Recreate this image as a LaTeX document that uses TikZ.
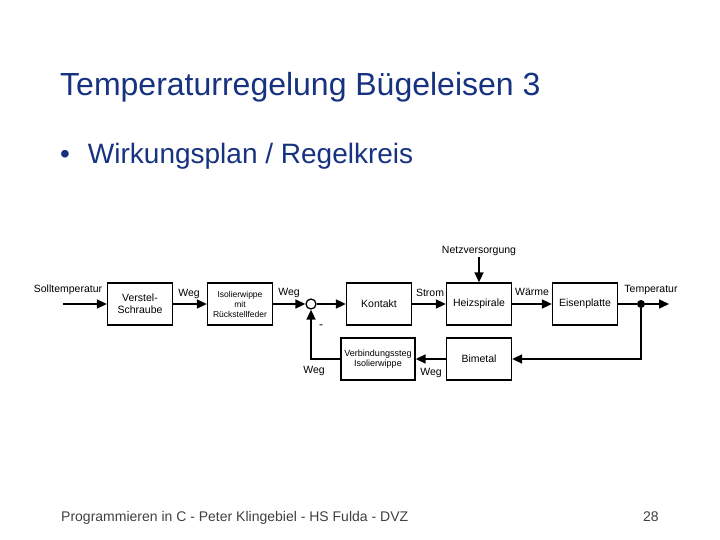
\documentclass[tikz,border=0pt]{standalone}
\usepackage{fontspec}
\setmainfont{Liberation Sans}
\usetikzlibrary{positioning}
\usetikzlibrary{arrows.meta}
\definecolor{titleblue}{RGB}{22,50,128}

\begin{document}
\begin{tikzpicture}[
    x=1pt, y=-1pt,
    block/.style={draw, line width=1.3pt, rectangle, minimum width=65pt, minimum height=42pt, inner sep=1pt, align=center, font=\fontsize{10.5}{12}\selectfont},
    sig/.style={font=\fontsize{10.5}{12}\selectfont, inner sep=1pt},
    flow/.style={line width=1.6pt, -{Triangle[length=10pt,width=9pt]}},
    line/.style={line width=1.6pt},
    >=stealth
]
\useasboundingbox (0,0) rectangle (720,540);

% slide texts
\node[anchor=base west, text=titleblue, font=\fontsize{32}{36}\selectfont, inner sep=0] (title) at (60,96) {Temperaturregelung Bügeleisen 3};
\node[anchor=base west, text=titleblue, font=\fontsize{28}{32}\selectfont, inner sep=0] (bullet) at (60,164) {•\hspace{18pt}Wirkungsplan / Regelkreis};
\node[anchor=base west, text=black!75, font=\fontsize{14}{16}\selectfont, inner sep=0] (footer) at (61,521) {Programmieren in C - Peter Klingebiel - HS Fulda - DVZ};
\node[anchor=base west, text=black!75, font=\fontsize{14}{16}\selectfont, inner sep=0] (page) at (643,521) {28};

% forward path
\node[block] (schraube) at (140,304) {Verstel-\\Schraube};
\node[block, font=\fontsize{8.5}{10}\selectfont] (wippe) at (240,304) {Isolierwippe\\mit\\Rückstellfeder};
\node[draw, circle, line width=1.3pt, minimum size=10pt, inner sep=0] (sum) at (311,304) {};
\node[block] (kontakt) at (379,304) {Kontakt};
\node[block] (heiz) at (479,304) {Heizspirale};
\node[block] (platte) at (585,304) {Eisenplatte};
\node[circle, fill, minimum size=8pt, inner sep=0] (dot) at (641,304) {};

% feedback path
\node[block] (bimetal) at (479,359) {Bimetal};
\node[block, minimum width=74pt, font=\fontsize{9}{10.5}\selectfont] (steg) at (378,359) {Verbindungssteg\\Isolierwippe};

% inputs and outputs
\coordinate (in) at (63,304);
\coordinate (out) at (669,304);
\node[sig] (netz) at (479,251) {Netzversorgung};

\draw[flow] (in) -- (schraube.west);
\draw[flow] (schraube) -- (wippe);
\draw[flow] (wippe) -- (sum);
\draw[flow] (sum) -- (kontakt);
\draw[flow] (kontakt) -- (heiz);
\draw[flow] (heiz) -- (platte);
\draw[line] (platte) -- (dot);
\draw[flow] (dot) -- (out);
\draw[flow] (netz) -- (heiz.north);
\draw[flow] (dot) |- (bimetal.east);
\draw[flow] (bimetal) -- (steg);
\draw[flow] (steg.west) -| (sum.south);

% signal labels
\node[sig] at (68,290) {Solltemperatur};
\node[sig] at (189,294) {Weg};
\node[sig] at (289,293) {Weg};
\node[sig, font=\fontsize{12}{14}\selectfont] at (321,327) {-};
\node[sig] at (430,293) {Strom};
\node[sig] at (532,292) {Wärme};
\node[sig] at (651,290) {Temperatur};
\node[sig] at (314,371) {Weg};
\node[sig] at (431,373) {Weg};

\end{tikzpicture}
\end{document}
